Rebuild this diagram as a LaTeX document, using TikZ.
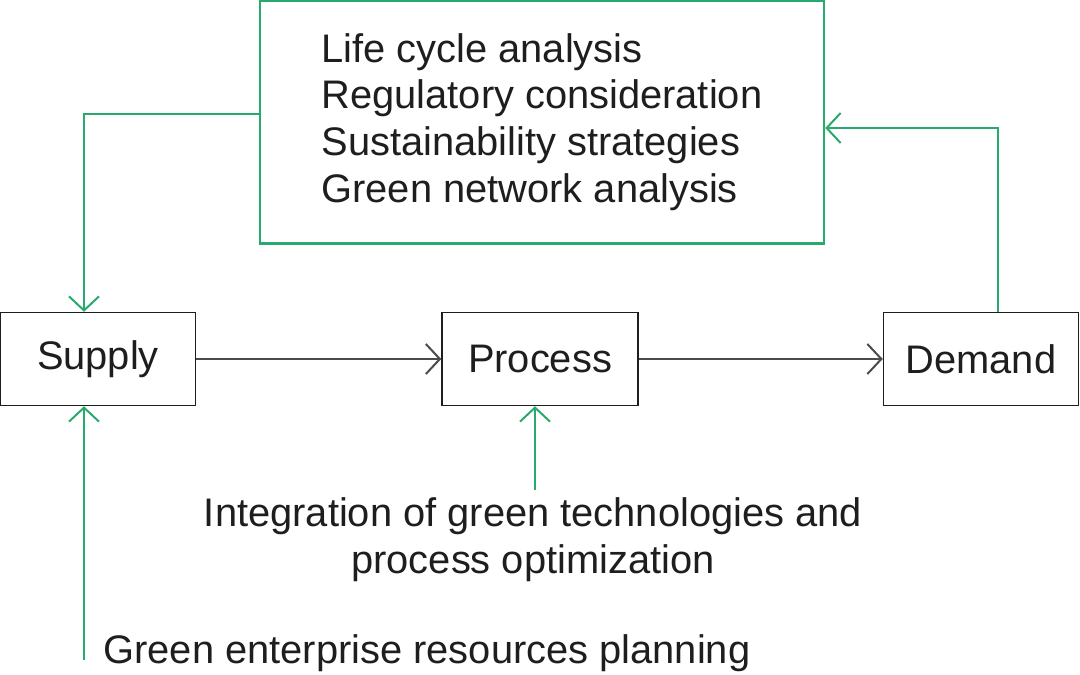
\documentclass[tikz,border=0pt]{standalone}
\usepackage{fontspec}
\setmainfont{Liberation Sans}
\usetikzlibrary{arrows.meta}
\definecolor{gr}{RGB}{40,170,110}
\definecolor{tx}{RGB}{30,30,30}
\begin{document}
\begin{tikzpicture}[x=1bp,y=-1bp,
  lbl/.style={font=\fontsize{40}{47}\selectfont,text=tx},
  box/.style={draw=tx,line width=1.5bp,inner sep=0pt},
  garr/.style={draw=gr,line width=2bp,-{Straight Barb[length=14bp,width=30bp,line width=2bp]}},
  karr/.style={draw=tx!80,line width=2bp,-{Straight Barb[length=14bp,width=30bp,line width=2bp]}}]
\useasboundingbox (0,0) rectangle (1080,675);
\fill[white] (0,0) rectangle (1080,675);
\node[draw=gr,line width=2.5bp,minimum width=564bp,minimum height=243bp,inner sep=0pt] (top) at (542,122) {};
\node[lbl,anchor=west,align=left] (list) at (318,122) {Life cycle analysis\\Regulatory consideration\\Sustainability strategies\\Green network analysis};
\node[box,lbl,minimum width=195bp,minimum height=93bp] (sup) at (98,359) {Supply};
\node[box,lbl,minimum width=196bp,minimum height=93bp] (pro) at (540,359) {Process};
\node[box,lbl,minimum width=195bp,minimum height=93bp] (dem) at (981,359) {Demand};
\node[lbl,align=center] (integ) at (533,540) {Integration of green technologies and\\process optimization};
\node[lbl,anchor=west] (erp) at (100,653) {Green enterprise resources planning};
\coordinate (c1) at (84,114);
\coordinate (c2) at (998,128);
\coordinate (c3) at (84,660);
\coordinate (c4) at (535,490);
\draw[karr] (sup.east) -- (pro.west);
\draw[karr] (pro.east) -- (dem.west);
\draw[garr] (top.west |- c1) -- (c1) -- (sup.north -| c1);
\draw[garr] (dem.north -| c2) -- (c2) -- (top.east |- c2);
\draw[garr] (c3) -- (sup.south -| c3);
\draw[garr] (c4) -- (pro.south -| c4);
\end{tikzpicture}
\end{document}
